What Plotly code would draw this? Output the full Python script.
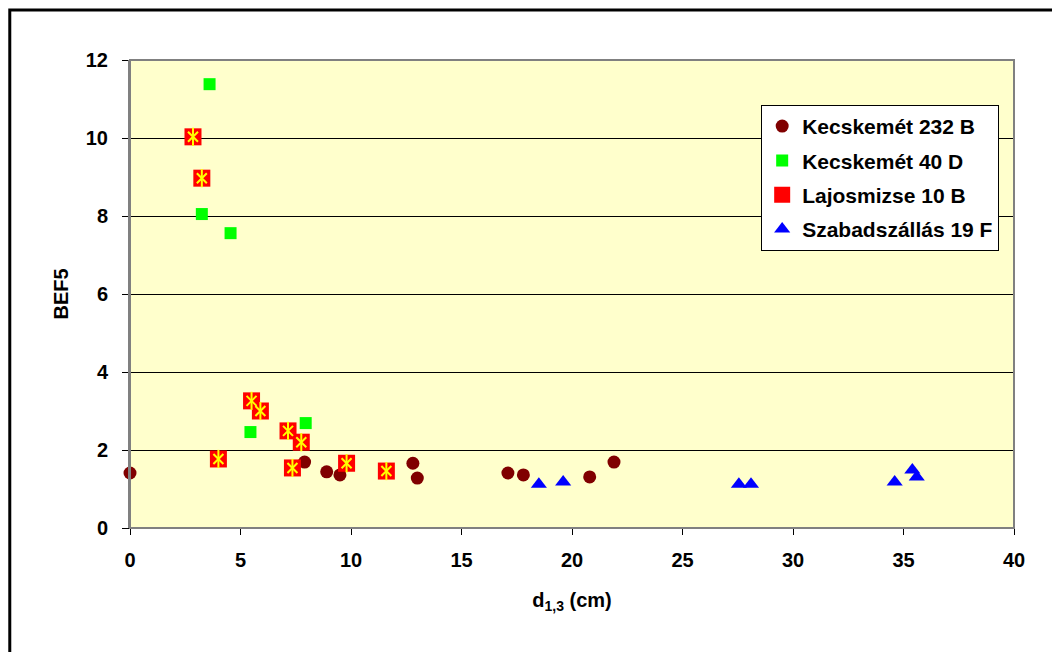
import plotly.graph_objects as go

# Data
kec232_x = [0, 7.9, 8.9, 9.5, 12.8, 13.0, 17.1, 17.8, 20.8, 21.9]
kec232_y = [1.41, 1.69, 1.44, 1.36, 1.66, 1.28, 1.41, 1.36, 1.31, 1.69]

kec40_x = [3.6, 3.25, 4.55, 5.45, 7.95]
kec40_y = [11.38, 8.05, 7.56, 2.46, 2.69]

lajos_x = [2.85, 3.25, 4.0, 5.5, 5.9, 7.15, 7.75, 7.35, 9.8, 11.6]
lajos_y = [10.03, 8.97, 1.77, 3.26, 3.0, 2.49, 2.2, 1.54, 1.66, 1.46]

szab_x = [18.5, 19.6, 27.55, 28.1, 34.6, 35.4, 35.6]
szab_y = [1.12, 1.18, 1.12, 1.12, 1.18, 1.49, 1.31]

x_ticks = [0, 5, 10, 15, 20, 25, 30, 35, 40]
y_ticks = [0, 2, 4, 6, 8, 10, 12]

FONT = "Arial, 'Liberation Sans', sans-serif"

fig = go.Figure()

fig.add_trace(go.Scatter(
    x=kec232_x, y=kec232_y, mode="markers", name="Kecskemét 232 B",
    legendgroup="a", cliponaxis=False,
    marker=dict(symbol="circle", size=13, color="#800000", line=dict(width=0))))

fig.add_trace(go.Scatter(
    x=kec40_x, y=kec40_y, mode="markers", name="Kecskemét 40 D",
    legendgroup="b", cliponaxis=False,
    marker=dict(symbol="square", size=12, color="#00FF00", line=dict(width=0))))

fig.add_trace(go.Scatter(
    x=lajos_x, y=lajos_y, mode="markers", name="Lajosmizse 10 B",
    legendgroup="c", cliponaxis=False,
    marker=dict(symbol="square", size=17, color="#FF0000", line=dict(width=0))))
fig.add_trace(go.Scatter(
    x=lajos_x, y=lajos_y, mode="markers", name="Lajosmizse 10 B",
    legendgroup="c", showlegend=False, cliponaxis=False, hoverinfo="skip",
    marker=dict(symbol="x-thin-open", size=10, color="#FFFF00",
                line=dict(width=2, color="#FFFF00"))))
fig.add_trace(go.Scatter(
    x=lajos_x, y=lajos_y, mode="markers", name="Lajosmizse 10 B",
    legendgroup="c", showlegend=False, cliponaxis=False, hoverinfo="skip",
    marker=dict(symbol="line-ns-open", size=13, color="#FFFF00",
                line=dict(width=2, color="#FFFF00"))))

fig.add_trace(go.Scatter(
    x=szab_x, y=szab_y, mode="markers", name="Szabadszállás 19 F",
    legendgroup="d", cliponaxis=False,
    marker=dict(symbol="triangle-up", size=14, color="#0000FF", line=dict(width=0))))

fig.update_layout(
    width=1052, height=644,
    margin=dict(l=122, r=46, t=52, b=124, autoexpand=False),
    paper_bgcolor="white",
    plot_bgcolor="#FFFFCC",
    font=dict(family=FONT, size=20, color="black", weight="bold"),
    showlegend=True,
    legend=dict(
        x=0.714, y=0.904, xanchor="left", yanchor="top",
        bgcolor="white", bordercolor="black", borderwidth=1,
        font=dict(family=FONT, size=21, color="black", weight="bold"),
        traceorder="grouped", tracegroupgap=4,
        itemsizing="trace",
    ),
    xaxis=dict(
        range=[0, 40], tickvals=x_ticks, ticktext=[str(v) for v in x_ticks],
        showgrid=False, zeroline=False,
        showline=True, linecolor="black", linewidth=1,
        ticks="outside", ticklen=6, tickcolor="black", tickwidth=1,
        tickfont=dict(family=FONT, size=20, color="black", weight="bold"),
        ticklabelstandoff=8,
        title=dict(text="d<sub>1,3</sub> (cm)", standoff=22,
                   font=dict(family=FONT, size=20, color="black", weight="bold")),
    ),
    yaxis=dict(
        range=[0, 12], tickvals=y_ticks, ticktext=[str(v) for v in y_ticks],
        showgrid=True, gridcolor="#000000", gridwidth=1,
        zeroline=False,
        showline=True, linecolor="#808080", linewidth=2,
        ticks="outside", ticklen=6, tickcolor="black", tickwidth=1,
        tickfont=dict(family=FONT, size=20, color="black", weight="bold"),
        ticklabelstandoff=10,
        title=dict(text="BEF5", standoff=12,
                   font=dict(family=FONT, size=20, color="black", weight="bold")),
    ),
    shapes=[
        # plot area border (top/right gray)
        dict(type="rect", xref="paper", yref="paper", x0=0, x1=1, y0=0, y1=1,
             line=dict(color="#808080", width=2), layer="above"),
        # outer chart frame
        dict(type="rect", xref="paper", yref="paper",
             x0=-0.136, x1=1.08, y0=-0.30, y1=1.107,
             line=dict(color="black", width=3), layer="above"),
    ],
)

fig.write_html("out.html")
